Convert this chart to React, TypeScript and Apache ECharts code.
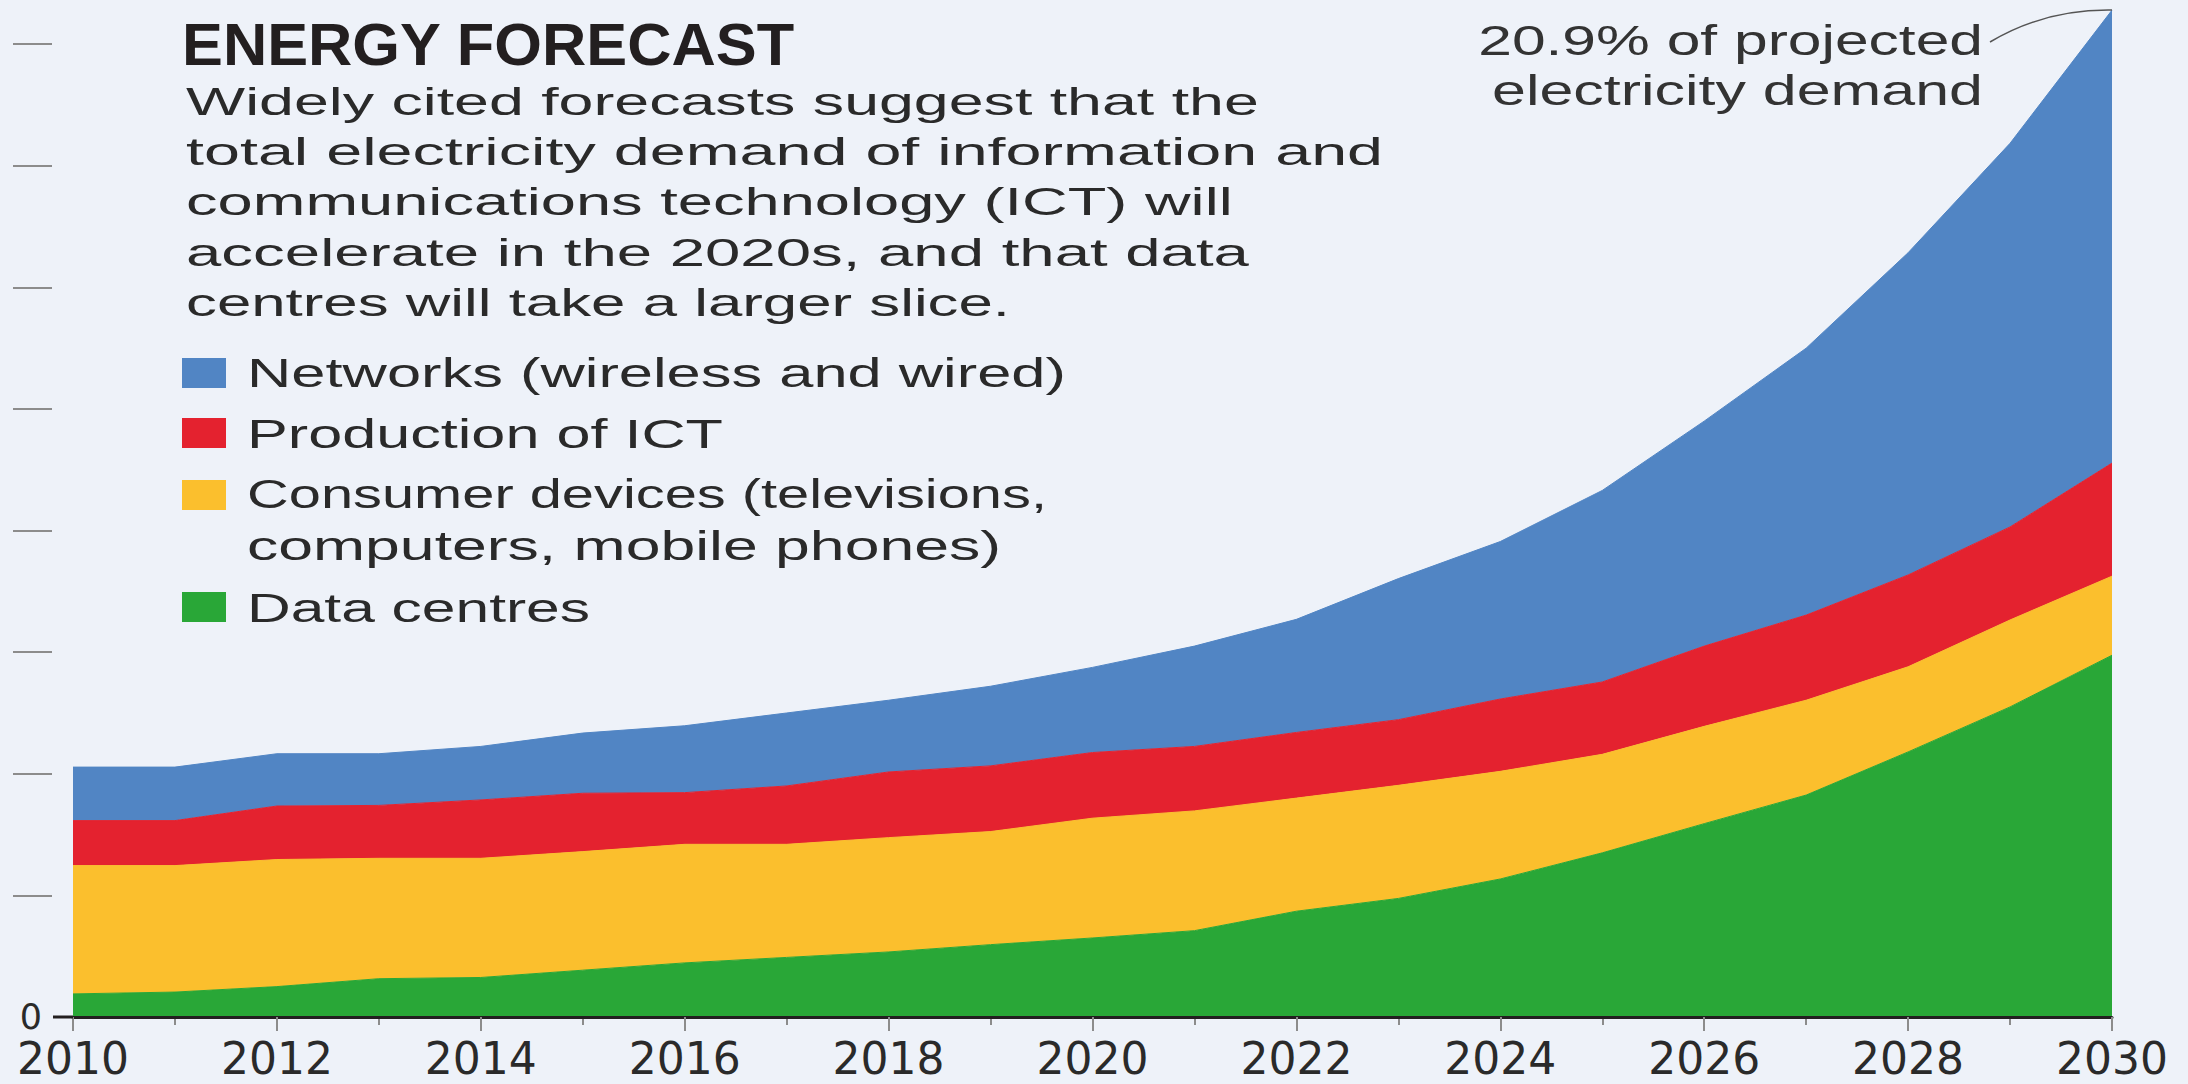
import React, { useEffect, useRef } from "react";
import * as echarts from "echarts";

// ---------- DATA (TWh) ----------
const years = ["2010", "2011", "2012", "2013", "2014", "2015", "2016", "2017", "2018", "2019", "2020", "2021", "2022", "2023", "2024", "2025", "2026", "2027", "2028", "2029", "2030"];
const dataCentres = [190, 205, 250, 315, 325, 385, 445, 490, 535, 595, 650, 710, 870, 975, 1135, 1350, 1590, 1825, 2180, 2550, 2975];
const consumerDevices = [1055, 1040, 1045, 990, 980, 975, 975, 930, 940, 930, 985, 985, 930, 930, 885, 810, 800, 780, 700, 715, 650];
const productionICT = [370, 370, 440, 435, 480, 480, 425, 480, 540, 540, 540, 530, 540, 540, 595, 595, 660, 700, 755, 765, 930];
const networks = [440, 440, 430, 425, 440, 495, 550, 600, 590, 655, 700, 825, 930, 1160, 1295, 1575, 1850, 2195, 2650, 3155, 3725];
const yTickValues = [1000, 2000, 3000, 4000, 5000, 6000, 7000, 8000];
const yLabelValues = [0];

const seriesNames = ["Data centres", "Consumer devices", "Production of ICT", "Networks (wireless and wired)"];
const titleText = "ENERGY FORECAST";
const bodyLines = [
  "Widely cited forecasts suggest that the",
  "total electricity demand of information and",
  "communications technology (ICT) will",
  "accelerate in the 2020s, and that data",
  "centres will take a larger slice.",
];
const legendLines = [
  ["Networks (wireless and wired)"],
  ["Production of ICT"],
  ["Consumer devices (televisions,", "computers, mobile phones)"],
  ["Data centres"],
];
const annotationLines = ["20.9% of projected", "electricity demand"];

// ---------- STYLE ----------
const BG = "#eef2f9";
const GREEN = "#29a737";
const YELLOW = "#fbbf2d";
const RED = "#e4222f";
const BLUE = "#5185c4";
const INK = "#2a2a2a";
const TICK = "#8c8c8c";
const FONT = "Liberation Sans";

export default function App() {
  const ref = useRef<HTMLDivElement>(null);

  useEffect(() => {
    document.body.style.margin = "0";
    document.body.style.background = BG;
    const el = ref.current!;
    const chart = echarts.init(el, null, { renderer: "svg" });

    const mk = (name: string, values: number[], color: string) => ({
      name,
      type: "line",
      stack: "total",
      data: values,
      symbol: "none",
      showSymbol: false,
      lineStyle: { width: 1, color },
      itemStyle: { color },
      areaStyle: { color, opacity: 1 },
      emphasis: { disabled: true },
      silent: true,
    });

    chart.setOption({
      animation: false,
      backgroundColor: BG,
      grid: { left: 73, right: 76, top: 1.6, bottom: 67 },
      xAxis: [
        {
          type: "category",
          data: years,
          boundaryGap: false,
          position: "bottom",
          axisLine: { show: true, lineStyle: { color: "#231f20", width: 3 } },
          axisTick: { show: true, interval: 1, length: 14, lineStyle: { color: TICK, width: 2 } },
          axisLabel: {
            show: true,
            interval: 1,
            margin: 24,
            fontSize: 44,
            lineHeight: 34,
            fontFamily: "DejaVu Sans",
            color: INK,
          },
          splitLine: { show: false },
          z: 5,
        },
        {
          type: "category",
          data: years,
          boundaryGap: false,
          position: "bottom",
          axisLine: { show: false },
          axisTick: { show: true, interval: 0, length: 8, lineStyle: { color: TICK, width: 2 } },
          axisLabel: { show: false },
          splitLine: { show: false },
          z: 4,
        },
      ],
      yAxis: {
        type: "value",
        min: 0,
        max: 8350,
        interval: 1000,
        offset: 21,
        axisLine: { show: false },
        axisTick: { show: true, inside: false, length: 39, customValues: yTickValues, lineStyle: { color: TICK, width: 2 } },
        axisLabel: {
          show: true,
          customValues: yLabelValues,
          margin: 10,
          fontSize: 35,
          lineHeight: 28,
          padding: [0, 0, 8, 0],
          fontFamily: "DejaVu Sans",
          color: INK,
        },
        splitLine: { show: false },
      },
      series: [
        mk(seriesNames[0], dataCentres, GREEN),
        mk(seriesNames[1], consumerDevices, YELLOW),
        mk(seriesNames[2], productionICT, RED),
        mk(seriesNames[3], networks, BLUE),
      ],
    });

    // measure text to stretch it like the reference
    const canvas = document.createElement("canvas");
    const ctx = canvas.getContext("2d")!;
    const measure = (t: string, size: number, weight: string) => {
      ctx.font = `${weight} ${size}px "${FONT}"`;
      return ctx.measureText(t).width;
    };
    const textEl = (
      t: string,
      x: number,
      baseline: number,
      size: number,
      weight: string,
      color: string,
      targetW: number,
      align: "left" | "right" = "left"
    ) => {
      const w = measure(t, size, weight);
      return {
        type: "text",
        x,
        y: baseline - 0.35 * size,
        scaleX: targetW / w,
        silent: true,
        z: 10,
        style: {
          text: t,
          fontSize: size,
          fontWeight: weight,
          fontFamily: FONT,
          fill: color,
          align,
          textAlign: align,
          verticalAlign: "middle",
          textVerticalAlign: "middle",
        },
      };
    };

    const graphics: any[] = [];
    graphics.push(textEl(titleText, 182, 65, 60, "bold", "#231f20", 613));
    const bodyBase = [115, 165.5, 215.5, 265.5, 316];
    const bodyW = [1073, 1197, 1047, 1063, 824];
    bodyLines.forEach((l, i) => graphics.push(textEl(l, 186, bodyBase[i], 38.5, "normal", INK, bodyW[i])));

    const swatchColors = [BLUE, RED, YELLOW, GREEN];
    const swatchY = [358, 418, 480, 592];
    const legendBase = [[387.7], [448.3], [508.3, 560], [621.7]];
    const legendW = [[819], [476], [800, 754], [343]];
    legendLines.forEach((lines, i) => {
      graphics.push({
        type: "rect",
        shape: { x: 182, y: swatchY[i], width: 44, height: 30 },
        style: { fill: swatchColors[i] },
        silent: true,
        z: 10,
      });
      lines.forEach((l, j) => graphics.push(textEl(l, 247, legendBase[i][j], 41, "normal", INK, legendW[i][j])));
    });

    graphics.push(textEl(annotationLines[0], 1983, 55, 43, "normal", "#333333", 505, "right"));
    graphics.push(textEl(annotationLines[1], 1983, 105, 43, "normal", "#333333", 491, "right"));

    const last = years.length - 1;
    const total2030 = dataCentres[last] + consumerDevices[last] + productionICT[last] + networks[last];
    const top = chart.convertToPixel({ xAxisIndex: 0, yAxisIndex: 0 }, [last, total2030]) as number[];
    const base = chart.convertToPixel({ xAxisIndex: 0, yAxisIndex: 0 }, [0, 0]) as number[];
    graphics.push({
      type: "bezierCurve",
      shape: { x1: 1990, y1: 42, cpx1: 2045, cpy1: top[1] - 1, x2: top[0], y2: top[1] },
      style: { stroke: "#555555", lineWidth: 1.5, fill: "none" },
      silent: true,
      z: 10,
    });
    graphics.push({
      type: "line",
      shape: { x1: base[0] - 20, y1: base[1], x2: base[0], y2: base[1] },
      style: { stroke: "#231f20", lineWidth: 3 },
      silent: true,
      z: 10,
    });

    chart.setOption({ graphic: { elements: graphics } });

    return () => chart.dispose();
  }, []);

  return (
    <div
      ref={ref}
      style={{ position: "fixed", left: 0, top: 0, width: 2188, height: 1084, background: BG }}
    />
  );
}
